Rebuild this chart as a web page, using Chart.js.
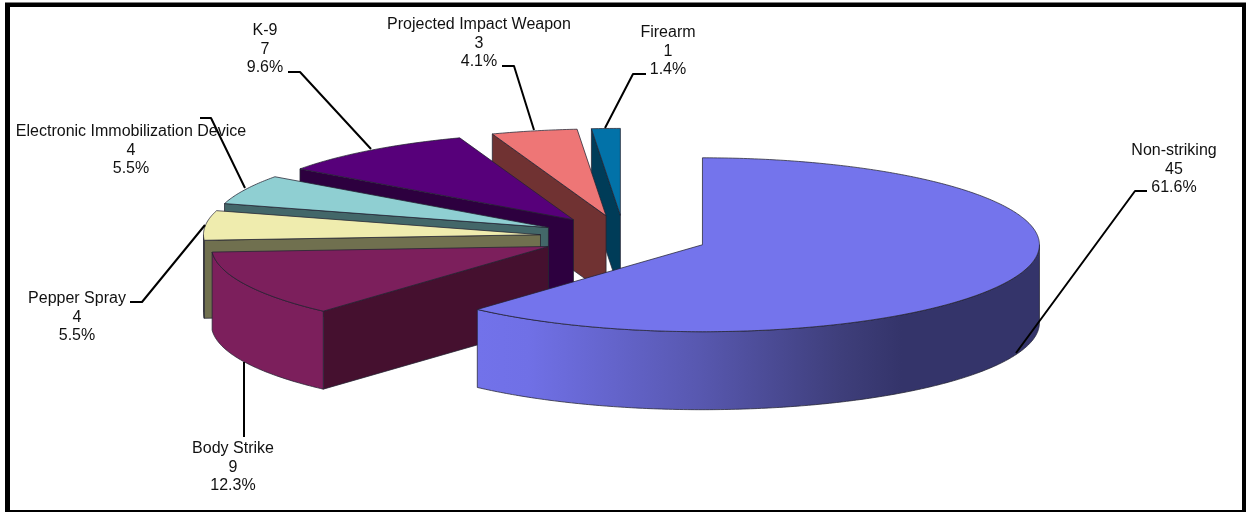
<!DOCTYPE html>
<html>
<head>
<meta charset="utf-8">
<style>
  html, body { margin: 0; padding: 0; background: #fff; }
  canvas { display: block; }
</style>
<script src="https://cdn.jsdelivr.net/npm/chart.js@4"></script>
</head>
<body>
<canvas id="pie" width="1246" height="512"></canvas>
<script>
// Use-of-force incidents by type
const categories = ['Non-striking', 'Body Strike', 'Pepper Spray', 'Electronic Immobilization Device', 'K-9', 'Projected Impact Weapon', 'Firearm'];
const counts = [45, 9, 4, 4, 7, 3, 1];

const topColors = ['#7474ec', '#7c1f5c', '#efecae', '#8fcfd2', '#57007a', '#ee7676', '#0272a8'];
const cutColors = ['#34346a', '#45102f', '#70704f', '#436769', '#2d003f', '#703232', '#003c58'];
const rimColors = ['#34346a', '#7c1f5c', '#70704f', '#436769', '#2d003f', '#703232', '#003c58'];

// Rim shading of the largest slice, light on the left and dark on the right
const rimShadeStops = [[0, '#7272ea'], [0.12, '#7070e6'], [0.52, '#5858b0'], [0.86, '#3e3e7a'], [1, '#34346a']];

// Label centre x, first-line y, then the leader polyline from label to slice
const labelLayout = [
  { x: 1174, y: 151, leader: [[1147, 191], [1135, 191], [1016, 353]] },
  { x: 233, y: 449, leader: [[244, 437], [244, 362]] },
  { x: 77, y: 299, leader: [[130, 302], [142, 302], [205, 225]] },
  { x: 131, y: 132, leader: [[200, 118], [211, 118], [245, 188]] },
  { x: 265, y: 31, leader: [[288, 72], [300, 72], [371, 149]] },
  { x: 479, y: 25, leader: [[502, 66], [514, 66], [534, 130]] },
  { x: 668, y: 33, leader: [[646, 74], [633, 74], [605, 128]] }
];

const TILT = 0.258;       // vertical squash of the pie disc
const DEPTH = 78;         // height of the pie wall
const EXPLODE = 84;       // distance each slice is pulled from the centre
const RADIUS = 337;
const LINE_HEIGHT = 18.3;
const total = counts.reduce((a, b) => a + b, 0);

function project(arc, angle, radius, drop) {
  const mid = (arc.startAngle + arc.endAngle) / 2;
  return {
    x: arc.x + EXPLODE * Math.cos(mid) + radius * Math.cos(angle),
    y: arc.y + TILT * (EXPLODE * Math.sin(mid) + radius * Math.sin(angle)) + drop
  };
}

function traceRim(ctx, arc, from, to, drop) {
  const steps = Math.max(2, Math.ceil(Math.abs(to - from) * 90));
  for (let i = 0; i <= steps; i++) {
    const p = project(arc, from + (to - from) * i / steps, arc.outerRadius, drop);
    ctx.lineTo(p.x, p.y);
  }
}

function drawCutFace(ctx, arc, angle, color) {
  const a = project(arc, angle, 0, 0);
  const b = project(arc, angle, arc.outerRadius, 0);
  ctx.beginPath();
  ctx.moveTo(a.x, a.y);
  ctx.lineTo(b.x, b.y);
  ctx.lineTo(b.x, b.y + DEPTH);
  ctx.lineTo(a.x, a.y + DEPTH);
  ctx.closePath();
  ctx.fillStyle = color;
  ctx.fill();
  ctx.stroke();
}

function drawOuterWall(ctx, arc, index) {
  const from = Math.max(arc.startAngle, 0);
  const to = Math.min(arc.endAngle, Math.PI);
  if (to <= from) return;
  ctx.beginPath();
  traceRim(ctx, arc, from, to, 0);
  traceRim(ctx, arc, to, from, DEPTH);
  ctx.closePath();
  if (index === 0) {
    const left = project(arc, to, arc.outerRadius, 0).x;
    const grad = ctx.createLinearGradient(left, 0, left + arc.outerRadius * 1.26, 0);
    rimShadeStops.forEach(([at, color]) => grad.addColorStop(at, color));
    ctx.fillStyle = grad;
  } else {
    ctx.fillStyle = rimColors[index];
  }
  ctx.fill();
  ctx.stroke();
}

function drawTop(ctx, arc) {
  // The library's own arc, squashed into the tilted plane
  const mid = (arc.startAngle + arc.endAngle) / 2;
  ctx.save();
  ctx.translate(arc.x + EXPLODE * Math.cos(mid), arc.y + TILT * EXPLODE * Math.sin(mid));
  ctx.scale(1, TILT);
  ctx.translate(-arc.x, -arc.y);
  arc.draw(ctx);
  ctx.restore();
  // Outline with an even pen width
  const c = project(arc, 0, 0, 0);
  ctx.beginPath();
  ctx.moveTo(c.x, c.y);
  traceRim(ctx, arc, arc.startAngle, arc.endAngle, 0);
  ctx.closePath();
  ctx.stroke();
}

const pie3d = {
  id: 'pie3d',
  beforeDraw(chart) {
    const ctx = chart.ctx;
    ctx.save();
    ctx.fillStyle = '#000';
    ctx.fillRect(5, 2.5, 1241, 509.5);
    ctx.fillStyle = '#fff';
    ctx.fillRect(10, 7, 1232, 503);
    ctx.restore();
  },
  beforeDatasetDraw(chart, args) {
    const ctx = chart.ctx;
    const arcs = args.meta.data;
    ctx.save();
    ctx.lineWidth = 1;
    ctx.lineJoin = 'round';
    ctx.strokeStyle = 'rgba(35,35,50,0.75)';
    // Back slices first: the order runs anticlockwise from the top
    for (let i = arcs.length - 1; i >= 0; i--) {
      const arc = arcs[i];
      if (Math.cos(arc.startAngle) < -1e-6) drawCutFace(ctx, arc, arc.startAngle, cutColors[i]);
      if (Math.cos(arc.endAngle) > 1e-6) drawCutFace(ctx, arc, arc.endAngle, cutColors[i]);
      drawOuterWall(ctx, arc, i);
      drawTop(ctx, arc);
    }
    ctx.restore();
    return false;
  },
  afterDatasetsDraw(chart) {
    const ctx = chart.ctx;
    ctx.save();
    ctx.strokeStyle = '#000';
    ctx.lineWidth = 2;
    ctx.lineJoin = 'round';
    labelLayout.forEach(item => {
      ctx.beginPath();
      item.leader.forEach(([x, y], i) => i ? ctx.lineTo(x, y) : ctx.moveTo(x, y));
      ctx.stroke();
    });
    ctx.fillStyle = '#111';
    ctx.font = '16px "Liberation Sans", Arial, sans-serif';
    ctx.textAlign = 'center';
    ctx.textBaseline = 'middle';
    labelLayout.forEach((item, i) => {
      const lines = [categories[i], String(counts[i]), (counts[i] / total * 100).toFixed(1) + '%'];
      lines.forEach((text, n) => ctx.fillText(text, item.x, item.y + n * LINE_HEIGHT));
    });
    ctx.restore();
  }
};

new Chart(document.getElementById('pie'), {
  type: 'pie',
  data: {
    labels: categories,
    datasets: [{ data: counts, backgroundColor: topColors, borderWidth: 0, radius: RADIUS }]
  },
  options: {
    responsive: false,
    animation: false,
    devicePixelRatio: 1,
    layout: { padding: { left: 2, right: 0, top: 0, bottom: 38 } },
    plugins: { legend: { display: false }, tooltip: { enabled: false }, title: { display: false } }
  },
  plugins: [pie3d]
});
</script>
</body>
</html>
